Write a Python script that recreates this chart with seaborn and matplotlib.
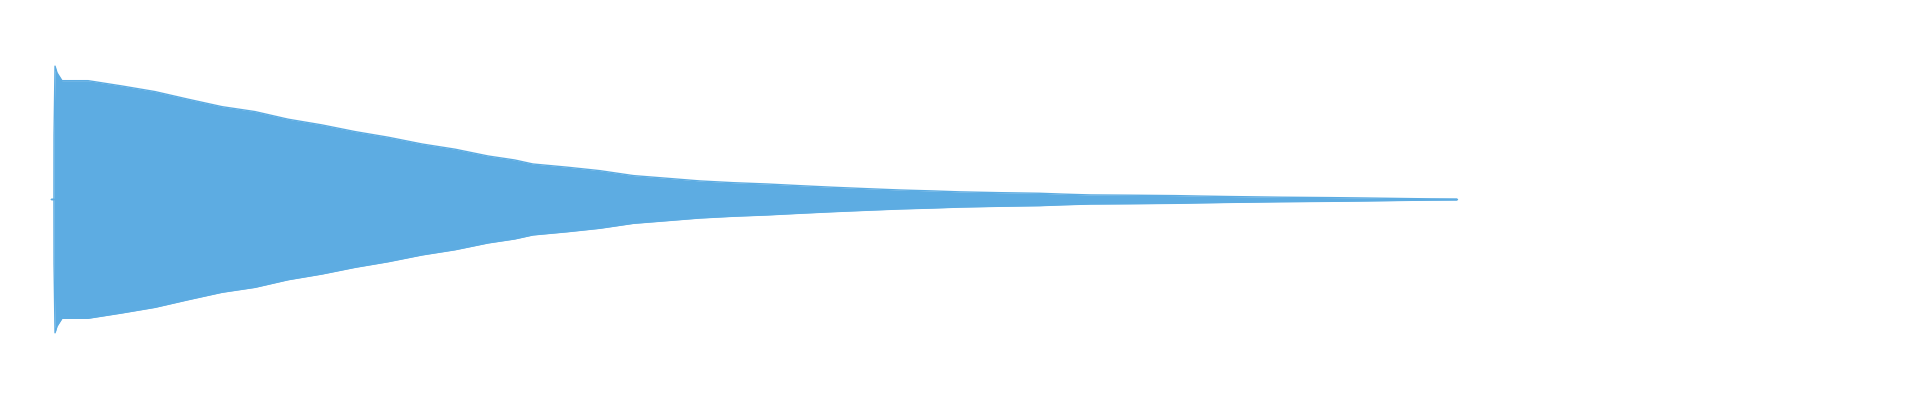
import numpy as np
import pandas as pd
import seaborn as sns
import matplotlib
matplotlib.use("Agg")
import matplotlib.pyplot as plt

# envelope of the decaying waveform
# time in seconds, amplitude normalised (onset spike = 1.0)
time_s = [-0.004, -0.0012, -0.0011, 0.0, 0.0022, 0.0077, 0.0365, 0.074, 0.1105,
          0.147, 0.1845, 0.221, 0.2575, 0.295, 0.3315, 0.368, 0.4055, 0.442,
          0.4785, 0.508, 0.528, 0.566, 0.602, 0.639, 0.676, 0.7125, 0.749,
          0.787, 0.823, 0.860, 0.897, 0.934, 0.970, 1.000, 1.044, 1.088,
          1.114, 1.144, 1.188, 1.238, 1.265, 1.298, 1.354, 1.409, 1.4475,
          1.486, 1.519, 1.549]
amplitude = [0.0, 0.0, 0.48, 1.0, 0.95, 0.891, 0.891, 0.851, 0.809,
             0.752, 0.696, 0.659, 0.602, 0.559, 0.509, 0.467, 0.416, 0.377,
             0.326, 0.296, 0.266, 0.242, 0.216, 0.179, 0.159, 0.139, 0.126,
             0.116, 0.1035, 0.0915, 0.081, 0.071, 0.064, 0.057, 0.051, 0.0465,
             0.040, 0.034, 0.032, 0.029, 0.0255, 0.022, 0.017, 0.014, 0.011,
             0.0075, 0.0045, 0.003]

wave_color = '#5DACE2'

df = pd.DataFrame({'time': time_s, 'top': amplitude})
df['bottom'] = -df['top']

sns.set_style('white')
fig = plt.figure(figsize=(19.2, 4), dpi=100)
ax = fig.add_axes([0, 0, 1, 1])

ax.fill_between(df['time'], df['bottom'], df['top'], color=wave_color, linewidth=0)
sns.lineplot(data=df, x='time', y='top', ax=ax, color=wave_color, linewidth=1.0, estimator=None, sort=False)
sns.lineplot(data=df, x='time', y='bottom', ax=ax, color=wave_color, linewidth=1.0, estimator=None, sort=False)
ax.plot([time_s[0], time_s[-1]], [0, 0], color=wave_color, linewidth=1)

ax.set_xlim(-0.0608, 2.0608)
ax.set_ylim(-1.504, 1.496)
ax.axis('off')

fig.savefig('out.png', dpi=100, facecolor='white')
